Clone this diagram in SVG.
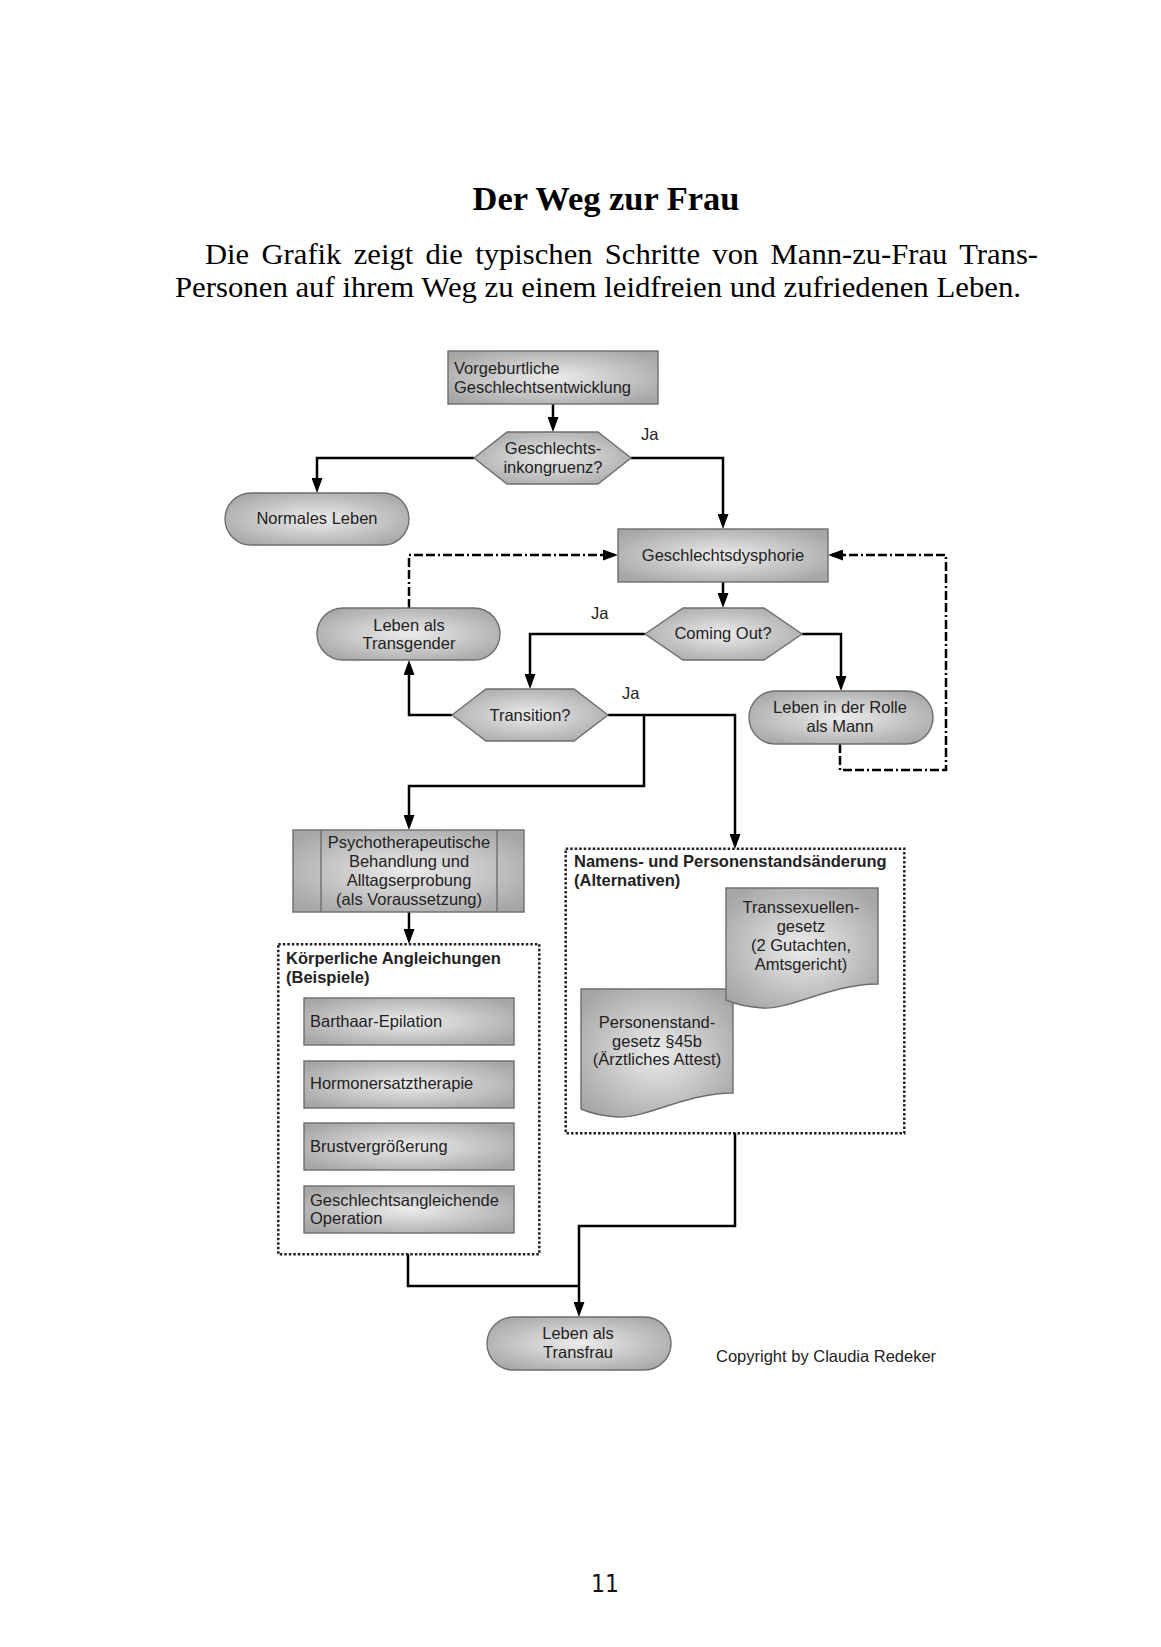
<svg xmlns="http://www.w3.org/2000/svg" width="1161" height="1647" viewBox="0 0 1161 1647">
<style>
.t{font-family:"Liberation Sans",Arial,sans-serif;font-size:16.5px;fill:#222}
.c{text-anchor:middle}
.b{font-weight:bold}
.sh{fill:url(#g);stroke:#6e6e6e;stroke-width:1.4}
.ln{fill:none;stroke:#000;stroke-width:2.5}
.a{marker-end:url(#arr)}
.dd{stroke-dasharray:9 3 9 3 2 3}
.dot{fill:none;stroke:#222;stroke-width:2.5;stroke-dasharray:2.5 2}
.serif{font-family:"Liberation Serif","Times New Roman",serif;fill:#000}
</style>
<defs>
<radialGradient id="g" cx="0.5" cy="0.5" r="0.62">
<stop offset="0" stop-color="#ececec"/>
<stop offset="1" stop-color="#a6a6a6"/>
</radialGradient>
<marker id="arr" viewBox="0 0 15 11" markerWidth="15" markerHeight="11" refX="11" refY="5.5" orient="auto" markerUnits="userSpaceOnUse">
<path d="M0,0 L15,5.5 L0,11 z" fill="#000"/>
</marker>
</defs>
<rect width="1161" height="1647" fill="#fff"/>
<g id="page-text">
<text class="serif b" x="606" y="210" font-size="33" text-anchor="middle" textLength="267" lengthAdjust="spacingAndGlyphs">Der Weg zur Frau</text>
<text class="serif" x="205" y="264" font-size="29" word-spacing="4.4" textLength="833" lengthAdjust="spacingAndGlyphs">Die Grafik zeigt die typischen Schritte von Mann-zu-Frau Trans-</text>
<text class="serif" x="175" y="297" font-size="29" textLength="846" lengthAdjust="spacingAndGlyphs">Personen auf ihrem Weg zu einem leidfreien und zufriedenen Leben.</text>
<text x="605" y="1592" font-family="DejaVu Sans,sans-serif" font-size="24" text-anchor="middle" fill="#111" textLength="28" lengthAdjust="spacingAndGlyphs">11</text>
</g>
<g id="connectors">
<path class="ln a" d="M553,404 V428"/>
<path class="ln a" d="M474,458 H317 V489"/>
<path class="ln a" d="M631,458 H723 V525"/>
<path class="ln a" d="M723,582 V604"/>
<path class="ln a" d="M645,634 H530 V685"/>
<path class="ln a" d="M802,634 H841 V687"/>
<path class="ln a" d="M452,715 H409 V664"/>
<path class="ln a" d="M608,715 H735 V845"/>
<path class="ln a" d="M644,715 V786 H409 V826"/>
<path class="ln a" d="M409,912 V940"/>
<path class="ln" d="M408,1254 V1286 H579"/>
<path class="ln a" d="M735,1133 V1226 H579 V1313"/>
<path class="ln a dd" d="M409,608 V555 H614"/>
<path class="ln a dd" d="M840,744 V770 H946 V555 H832"/>
<text class="t" x="641" y="440">Ja</text>
<text class="t" x="591" y="619">Ja</text>
<text class="t" x="622" y="699">Ja</text>
</g>
<g id="n-vorgeburtlich">
<rect class="sh" x="448" y="351" width="210" height="53"/>
<text class="t" x="454" y="374">Vorgeburtliche</text>
<text class="t" x="454" y="393">Geschlechtsentwicklung</text>
</g>
<g id="n-inkongruenz">
<polygon class="sh" points="474,458 507,432 598,432 631,458 598,484 507,484"/>
<text class="t c" x="553" y="454">Geschlechts-</text>
<text class="t c" x="553" y="473">inkongruenz?</text>
</g>
<g id="n-normal">
<rect class="sh" x="225" y="493" width="184" height="52" rx="26"/>
<text class="t c" x="317" y="524">Normales Leben</text>
</g>
<g id="n-dysphorie">
<rect class="sh" x="618" y="529" width="210" height="53"/>
<text class="t c" x="723" y="561">Geschlechtsdysphorie</text>
</g>
<g id="n-comingout">
<polygon class="sh" points="645,634 683,608 764,608 802,634 764,660 683,660"/>
<text class="t c" x="723" y="639">Coming Out?</text>
</g>
<g id="n-transgender">
<rect class="sh" x="317" y="608" width="183" height="52" rx="26"/>
<text class="t c" x="409" y="631">Leben als</text>
<text class="t c" x="409" y="649">Transgender</text>
</g>
<g id="n-transition">
<polygon class="sh" points="452,715 486,689 574,689 608,715 574,741 486,741"/>
<text class="t c" x="530" y="721">Transition?</text>
</g>
<g id="n-mann">
<rect class="sh" x="749" y="691" width="184" height="53" rx="26.5"/>
<text class="t c" x="840" y="713">Leben in der Rolle</text>
<text class="t c" x="840" y="732">als Mann</text>
</g>
<g id="n-psycho">
<rect class="sh" x="293" y="830" width="231" height="82"/>
<line x1="321" y1="830" x2="321" y2="912" stroke="#6e6e6e" stroke-width="1.4"/>
<line x1="497" y1="830" x2="497" y2="912" stroke="#6e6e6e" stroke-width="1.4"/>
<text class="t c" x="409" y="848">Psychotherapeutische</text>
<text class="t c" x="409" y="867">Behandlung und</text>
<text class="t c" x="409" y="886">Alltagserprobung</text>
<text class="t c" x="409" y="904.5">(als Voraussetzung)</text>
</g>
<g id="n-koerper">
<rect class="dot" x="278.3" y="944.3" width="261" height="310"/>
<text class="t b" x="286" y="964">Körperliche Angleichungen</text>
<text class="t b" x="286" y="983">(Beispiele)</text>
<rect class="sh" x="304" y="998" width="210" height="47"/>
<text class="t" x="310" y="1027">Barthaar-Epilation</text>
<rect class="sh" x="304" y="1061" width="210" height="47"/>
<text class="t" x="310" y="1089">Hormonersatztherapie</text>
<rect class="sh" x="304" y="1123" width="210" height="47"/>
<text class="t" x="310" y="1152">Brustvergrößerung</text>
<rect class="sh" x="304" y="1186" width="210" height="47"/>
<text class="t" x="310" y="1206">Geschlechtsangleichende</text>
<text class="t" x="310" y="1224">Operation</text>
</g>
<g id="n-namen">
<rect class="dot" x="565.7" y="848.7" width="338.6" height="284.6"/>
<text class="t b" x="574" y="867">Namens- und Personenstandsänderung</text>
<text class="t b" x="574" y="886">(Alternativen)</text>
<path class="sh" d="M581,989 H733 V1093 C685,1093 645,1119 618,1117 C600,1116 588,1112 581,1109 Z"/>
<text class="t c" x="657" y="1028">Personenstand-</text>
<text class="t c" x="657" y="1047">gesetz §45b</text>
<text class="t c" x="657" y="1065">(Ärztliches Attest)</text>
<path class="sh" d="M726,888 H878 V984 C830,984 790,1010 763,1008 C745,1007 733,1003 726,1000 Z"/>
<text class="t c" x="801" y="913">Transsexuellen-</text>
<text class="t c" x="801" y="932">gesetz</text>
<text class="t c" x="801" y="951">(2 Gutachten,</text>
<text class="t c" x="801" y="969.5">Amtsgericht)</text>
</g>
<g id="n-transfrau">
<rect class="sh" x="487" y="1317" width="184" height="53" rx="26.5"/>
<text class="t c" x="578" y="1339">Leben als</text>
<text class="t c" x="578" y="1358">Transfrau</text>
</g>
<text class="t" x="716" y="1362">Copyright by Claudia Redeker</text>
</svg>
